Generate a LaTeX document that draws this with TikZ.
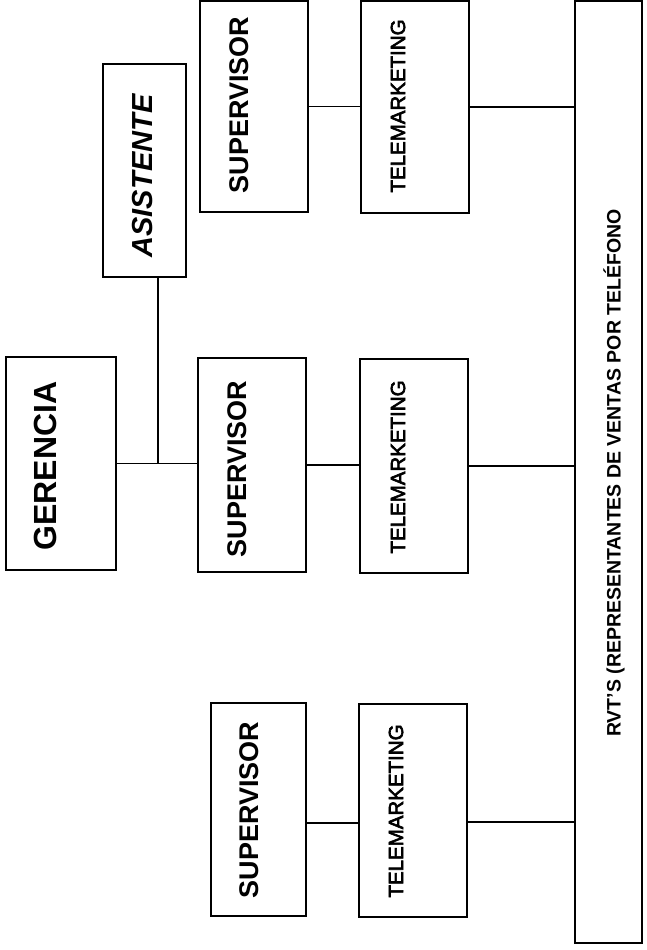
\documentclass[tikz,border=0pt]{standalone}
\usepackage{fontspec}
\setmainfont{Liberation Sans}
\newfontfamily\telfam[FakeBold=3]{Liberation Sans}
\begin{document}
\begin{tikzpicture}[x=1pt,y=-1pt,
  box/.style={draw=black, line width=1.1pt, inner sep=0pt, fill=white},
  lbl/.style={rotate=90, inner sep=0pt, anchor=center},
  conn/.style={draw=black, line width=1.1pt},
  supfont/.style={font=\fontsize{27}{30}\selectfont\bfseries},
  telfont/.style={font=\telfam\fontsize{20.5}{24}\selectfont}
]
\useasboundingbox (0,0) rectangle (646,950);
% boxes
\node[box, minimum width=110pt, minimum height=213pt] (ger) at (61,463.5) {};
\node[box, minimum width=83pt, minimum height=213pt] (asis) at (144.5,170.5) {};
\node[box, minimum width=108pt, minimum height=211pt] (sup1) at (254,106.5) {};
\node[box, minimum width=108pt, minimum height=212pt] (tel1) at (415,107) {};
\node[box, minimum width=108pt, minimum height=214pt] (sup2) at (252,465) {};
\node[box, minimum width=108pt, minimum height=214pt] (tel2) at (414,466) {};
\node[box, minimum width=95pt, minimum height=213pt] (sup3) at (258.5,809.5) {};
\node[box, minimum width=108pt, minimum height=213pt] (tel3) at (413,810.5) {};
\node[box, minimum width=67pt, minimum height=942pt] (rvt) at (608.5,472) {};
% labels
\node[lbl, font=\fontsize{32}{36}\selectfont\bfseries] (tger) at (45,466) {GERENCIA};
\node[lbl, font=\fontsize{29}{33}\selectfont\bfseries\itshape] (tasis) at (143,176) {ASISTENTE};
\node[lbl, supfont] (tsup1) at (239,105) {SUPERVISOR};
\node[lbl, supfont] (tsup2) at (237,469) {SUPERVISOR};
\node[lbl, supfont] (tsup3) at (249,810) {SUPERVISOR};
\node[lbl, telfont] (ttel1) at (398,106) {TELEMARKETING};
\node[lbl, telfont] (ttel2) at (398,467) {TELEMARKETING};
\node[lbl, telfont] (ttel3) at (396,811) {TELEMARKETING};
\node[lbl, font=\fontsize{19.5}{22}\selectfont\bfseries] (trvt) at (614,473) {RVT'S (REPRESENTANTES DE VENTAS POR TELÉFONO};
% connectors
\coordinate (j) at (158,463.5);
\draw[conn] (ger.east) -- (ger.east -| sup2.west);
\draw[conn] (asis.south -| j) -- (j);
\draw[conn] (sup1.east) -- (sup1.east -| tel1.west);
\draw[conn] (tel1.east) -- (tel1.east -| rvt.west);
\draw[conn] (sup2.east) -- (sup2.east -| tel2.west);
\draw[conn] (tel2.east) -- (tel2.east -| rvt.west);
\draw[conn] ([yshift=-13.5pt]sup3.east) -- ([yshift=-13.5pt]sup3.east -| tel3.west);
\draw[conn] ([yshift=-11.5pt]tel3.east) -- ([yshift=-11.5pt]tel3.east -| rvt.west);
\end{tikzpicture}
\end{document}
